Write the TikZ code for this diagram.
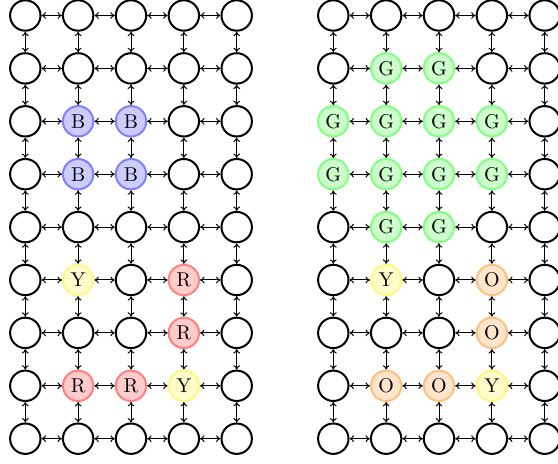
\documentclass[tikz,border=0pt]{standalone}
\usetikzlibrary{arrows.meta}
\tikzset{
  cell/.style={circle, draw=black, line width=1pt, minimum size=15.2pt, inner sep=0pt, fill=white},
  cn/.style={},
  cB/.style={fill=blue!20, draw=blue!50},
  cG/.style={fill=green!20, draw=green!50},
  cR/.style={fill=red!20, draw=red!50},
  cY/.style={fill=yellow!20, draw=yellow!50},
  cO/.style={fill=orange!20, draw=orange!50},
  link/.style={{Computer Modern Rightarrow[length=2.2pt,width=3.4pt]}-{Computer Modern Rightarrow[length=2.2pt,width=3.4pt]}, line width=0.5pt}
}
\newcommand\gridcells[3]{%
  \foreach \row [count=\r from 0] in {#3} {
    \foreach \k [count=\c from 0] in \row {
      \node[cell, c\k] (#1-\r-\c) at ({#2+52.85*\c},{15.5+52.9*\r}) {\if n\k\else\k\fi};
    }
  }
}
\begin{document}
\begin{tikzpicture}[x=0.5pt,y=-0.5pt]
\useasboundingbox (0,0) rectangle (558,464);
\gridcells{L}{25.3}{{n,n,n,n,n},{n,n,n,n,n},{n,B,B,n,n},{n,B,B,n,n},{n,n,n,n,n},{n,Y,n,R,n},{n,n,n,R,n},{n,R,R,Y,n},{n,n,n,n,n}}
\gridcells{R}{333.3}{{n,n,n,n,n},{n,G,G,n,n},{G,G,G,G,n},{G,G,G,G,n},{n,G,G,n,n},{n,Y,n,O,n},{n,n,n,O,n},{n,O,O,Y,n},{n,n,n,n,n}}
\foreach \g in {L,R} {
  \foreach \r in {0,...,8} {
    \foreach \c [evaluate=\c as \d using int(\c+1)] in {0,...,3} {
      \draw[link] (\g-\r-\c) -- (\g-\r-\d);
    }
  }
  \foreach \r [evaluate=\r as \s using int(\r+1)] in {0,...,7} {
    \foreach \c in {0,...,4} {
      \draw[link] (\g-\r-\c) -- (\g-\s-\c);
    }
  }
}
\end{tikzpicture}
\end{document}
